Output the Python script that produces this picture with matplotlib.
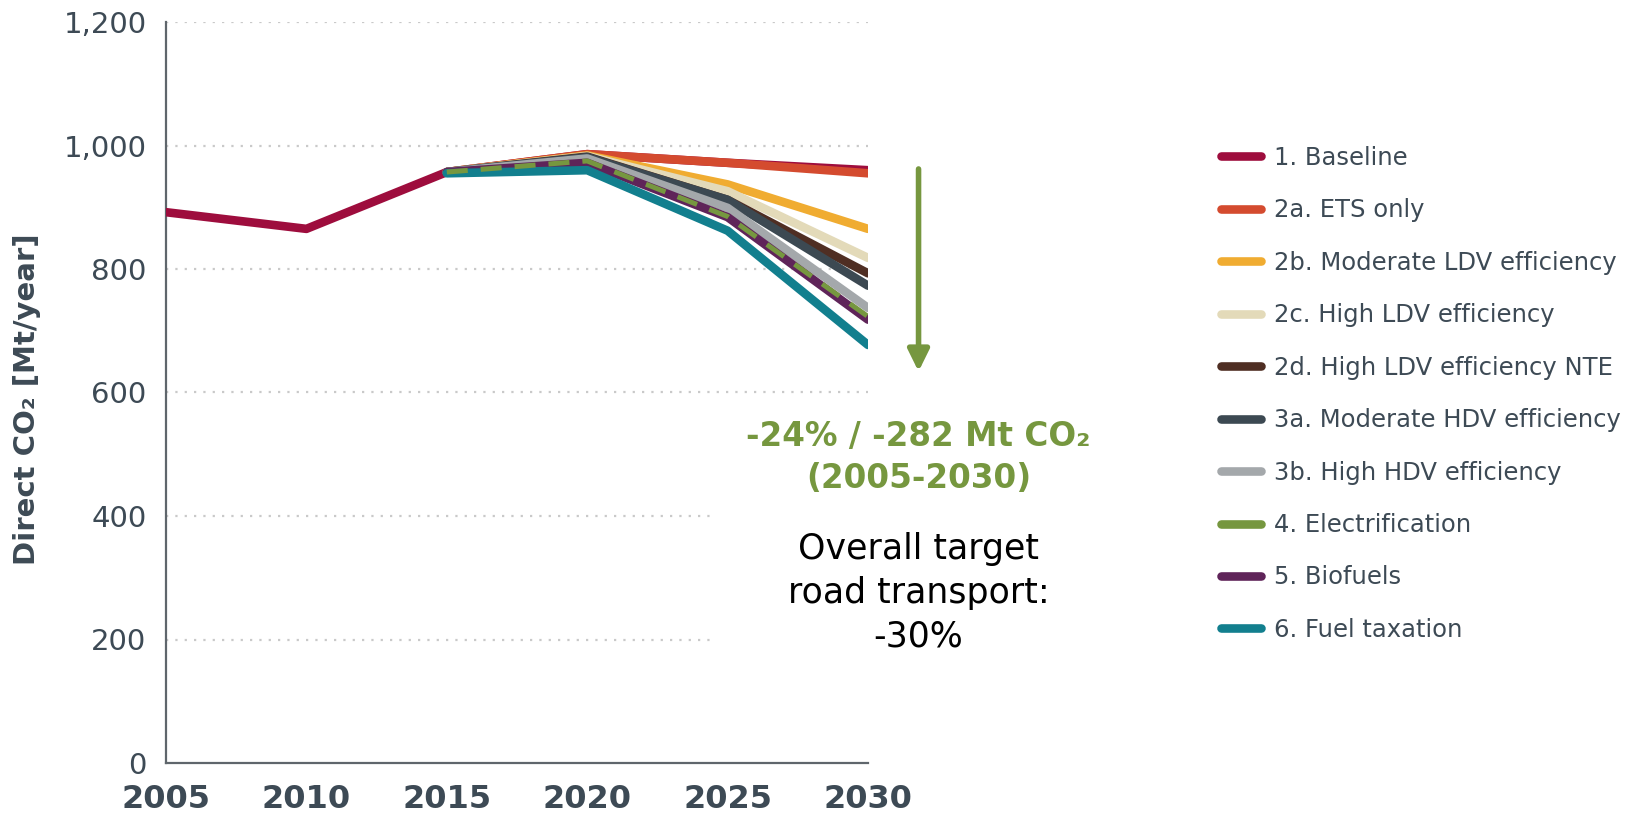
import matplotlib
matplotlib.use("Agg")
import matplotlib.pyplot as plt
import matplotlib.transforms as mtransforms
from matplotlib.patches import ArrowStyle

# ---- data ----
years      = [2005, 2010, 2015, 2020, 2025, 2030]
scen_years = [2015, 2020, 2025, 2030]

baseline = [892, 865, 957, 986, 972, 960]
ets_only = [957, 986, 972, 955]
mod_ldv  = [957, 984, 937, 865]
high_ldv = [957, 983, 926, 818]
ldv_nte  = [957, 982, 912, 793]
mod_hdv  = [957, 981, 912, 773]
high_hdv = [957, 979, 899, 737]
elec     = [957, 975, 885, 723]
biofuels = [957, 972, 884, 718]
fuel_tax = [955, 960, 862, 677]

labels = ["1. Baseline", "2a. ETS only", "2b. Moderate LDV efficiency",
          "2c. High LDV efficiency", "2d. High LDV efficiency NTE",
          "3a. Moderate HDV efficiency", "3b. High HDV efficiency",
          "4. Electrification", "5. Biofuels", "6. Fuel taxation"]
colors = ["#9E0D3D", "#D44B2F", "#F0AC31", "#E3DAB9", "#4F2E23",
          "#3C4952", "#A4A8AB", "#76973F", "#5F2459", "#127F8E"]

yticks = [0, 200, 400, 600, 800, 1000, 1200]
ytick_labels = ["0", "200", "400", "600", "800", "1,000", "1,200"]

GREEN = "#76973F"
TXT   = "#3D4A55"

fig = plt.figure(figsize=(16.31, 8.16), dpi=100)
ax = fig.add_axes([166/1631, 53/816, (868-166)/1631, (763-22)/816])

# gridlines (the lower ones stop short of the annotation)
for v in yticks[1:]:
    xmax = 2024.5 if v in (200, 400) else 2030
    ax.hlines(v, 2005, xmax, colors="#C9C9C9", lw=1.6,
              linestyles=(0, (1, 3.2)), zorder=1)

lw = 6.2
series = [baseline, ets_only, mod_ldv, high_ldv, ldv_nte, mod_hdv,
          high_hdv, elec, biofuels, fuel_tax]
handles = []
for i, (lab, col, vals) in enumerate(zip(labels, colors, series)):
    xs = years if i == 0 else scen_years
    if lab.startswith("4."):
        continue
    h, = ax.plot(xs, vals, color=col, lw=lw, solid_capstyle="round",
                 solid_joinstyle="round", zorder=3 + i, label=lab)
    handles.append(h)

# electrification: dashed green on top of biofuels
ax.plot(scen_years, elec, color=GREEN, lw=3.6, dashes=(4.2, 2.6),
        zorder=20)
elec_handle = plt.Line2D([], [], color=GREEN, lw=lw, solid_capstyle="round")
handles.insert(7, elec_handle)

ax.set_xlim(2005, 2030)
ax.set_ylim(0, 1200)
ax.set_xticks(years)
ax.set_xticklabels([str(y) for y in years], fontsize=23, fontweight="bold",
                   color=TXT)
shift = mtransforms.ScaledTranslation(4/100, 0, fig.dpi_scale_trans)
for t in ax.get_xticklabels():
    t.set_transform(t.get_transform() + shift)
ax.set_yticks(yticks)
ax.set_yticklabels(ytick_labels, fontsize=21, color=TXT)
ax.tick_params(axis="both", length=0)
ax.tick_params(axis="y", pad=14)
ax.tick_params(axis="x", pad=15)
for s in ["top", "right"]:
    ax.spines[s].set_visible(False)
for s in ["left", "bottom"]:
    ax.spines[s].set_color("#5F666C")
    ax.spines[s].set_linewidth(1.6)

ax.set_ylabel("Direct CO\u2082 [Mt/year]", fontsize=21, fontweight="bold",
              color=TXT)
ax.yaxis.set_label_coords(-0.178, 0.491)

# arrow and annotation
xa = 2031.8
ax.annotate("", xy=(xa, 634), xytext=(xa, 962), annotation_clip=False,
            arrowprops=dict(arrowstyle=ArrowStyle("-|>", head_length=0.65,
                                                  head_width=0.32),
                            mutation_scale=20, lw=4.0, color=GREEN,
                            shrinkA=0, shrinkB=0))
ax.text(xa, 495, "-24% / -282 Mt CO\u2082\n(2005-2030)", ha="center",
        va="center", fontsize=23.5, fontweight="bold", color=GREEN,
        linespacing=1.35, clip_on=False)
ax.text(xa, 275, "Overall target\nroad transport:\n-30%", ha="center",
        va="center", fontsize=25, color="black", linespacing=1.36,
        clip_on=False)

leg = fig.legend(handles=handles, labels=labels, loc="upper left",
                 bbox_to_anchor=(1221/1631, 1 - 146/816), frameon=False,
                 prop={"size": 17.5}, handlelength=1.65,
                 handletextpad=0.55, labelspacing=1.17, borderpad=0,
                 borderaxespad=0)
for t in leg.get_texts():
    t.set_color(TXT)

fig.savefig("out.png", dpi=100)
